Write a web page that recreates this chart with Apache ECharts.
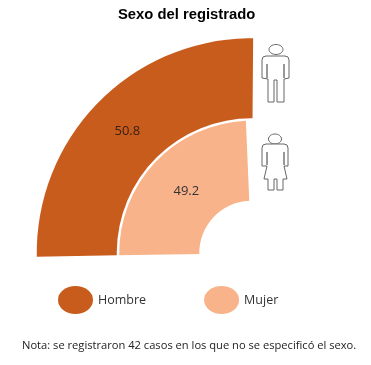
<!DOCTYPE html>
<html>
<head>
<meta charset="utf-8">
<style>
    html, body { margin: 0; padding: 0; background: #fff; }
    #chart { width: 371px; height: 365px; }
</style>
<script src="https://cdn.jsdelivr.net/npm/echarts@6/dist/echarts.min.js"></script>
</head>
<body>
<div id="chart"></div>
<script>
    // datos
    let categories = ['Mujer', 'Hombre'];
    let hombreValues = [null, 50.8];
    let mujerValues = [49.2, null];
    let titleText = 'Sexo del registrado';
    let noteText = 'Nota: se registraron 42 casos en los que no se especificó el sexo.';

    let ellipseIcon = 'path://M0 50A50 50 0 1 1 100 50A50 50 0 1 1 0 50Z';
    let labelFont = 'Open Sans';

    // Siluetas de hombre y mujer
    let manBody = [[266, 56], [285, 56], [288, 57], [289, 60], [289, 78], [284, 79], [284, 102], [277, 102], [277, 80], [274, 80], [274, 102], [268, 102], [268, 79], [262, 78], [262, 60], [263, 57]];
    let womanBody = [[266, 144], [284, 144], [287, 145], [288, 148], [288, 166], [284, 166], [287, 179], [283, 179], [283, 190], [277, 190], [277, 179], [274, 179], [274, 190], [268, 190], [268, 179], [264, 179], [267, 166], [262, 166], [262, 148], [263, 145]];
    let armLines = [
        [267, 64, 267, 78], [284, 64, 284, 78],
        [267, 152, 267, 165], [284, 152, 284, 165]
    ];

    function barLabel(color, offset) {
        return {
            show: true,
            position: 'middle',
            rotate: 0,
            offset: offset,
            fontFamily: labelFont,
            fontSize: 13,
            color: color
        };
    }

    let silhouette = {fill: '#fff', stroke: '#666', lineWidth: 1};

    let graphics = [
        {type: 'ellipse', shape: {cx: 276, cy: 49.5, rx: 7, ry: 5}, style: silhouette},
        {type: 'polygon', shape: {points: manBody}, style: silhouette},
        {type: 'ellipse', shape: {cx: 275, cy: 139, rx: 6.5, ry: 5}, style: silhouette},
        {type: 'polygon', shape: {points: womanBody}, style: silhouette},
        {
            type: 'text',
            left: 22,
            top: 340,
            style: {
                text: noteText,
                fontFamily: labelFont,
                fontSize: 11.15,
                fill: '#222'
            }
        }
    ];
    armLines.forEach((l)=> {
        graphics.push({
            type: 'line',
            shape: {x1: l[0], y1: l[1], x2: l[2], y2: l[3]},
            style: {stroke: '#333', lineWidth: 1}
        });
    });

    let myChart = echarts.init(document.getElementById('chart'));

    let option = {
        animation: false,
        backgroundColor: '#fff',
        title: {
            text: titleText,
            left: 118,
            top: 7,
            padding: 0,
            textStyle: {
                fontFamily: 'Liberation Sans',
                fontSize: 14.8,
                fontWeight: 'bold',
                color: '#000'
            }
        },
        legend: {
            left: 58,
            top: 286,
            padding: 0,
            itemWidth: 35,
            itemHeight: 28,
            itemGap: 58,
            icon: ellipseIcon,
            symbolKeepAspect: false,
            data: ['Hombre', 'Mujer'],
            textStyle: {
                fontFamily: labelFont,
                fontSize: 12.5,
                color: '#333'
            }
        },
        polar: {
            center: [251.5, 253],
            radius: [51, 216]
        },
        angleAxis: {
            type: 'value',
            min: 0,
            max: 200,
            startAngle: 181,
            clockwise: true,
            show: false
        },
        radiusAxis: {
            type: 'category',
            data: categories,
            show: false
        },
        series: [{
            name: 'Hombre',
            type: 'bar',
            coordinateSystem: 'polar',
            data: hombreValues,
            barGap: '-100%',
            barCategoryGap: '3%',
            itemStyle: {color: '#C85C1C'},
            label: barLabel('#3a2010', [0, 1])
        }, {
            name: 'Mujer',
            type: 'bar',
            coordinateSystem: 'polar',
            data: mujerValues,
            barGap: '-100%',
            barCategoryGap: '3%',
            itemStyle: {color: '#F8B38A'},
            label: barLabel('#333', [2, 2])
        }],
        graphic: graphics
    };
    myChart.setOption(option);
</script>
</body>
</html>
